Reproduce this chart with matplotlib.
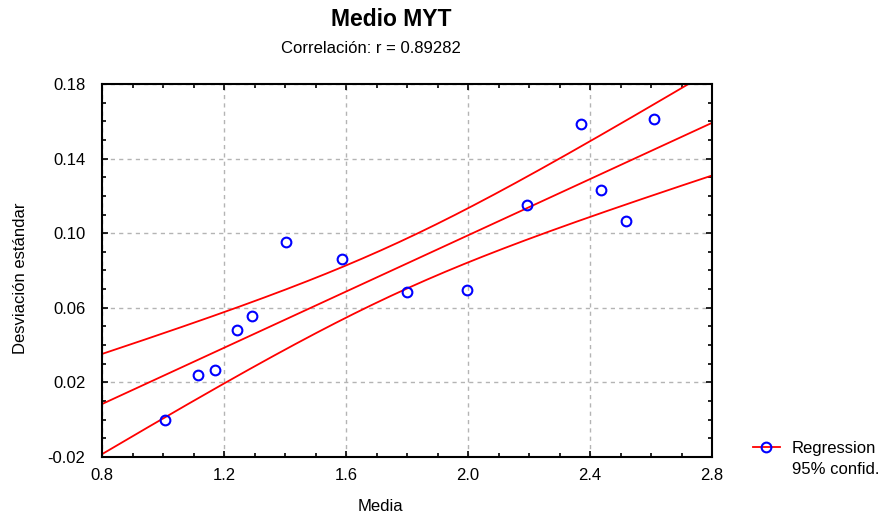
import matplotlib
matplotlib.use("Agg")
import matplotlib.pyplot as plt
from matplotlib.lines import Line2D
from matplotlib.ticker import MultipleLocator, FixedLocator, FuncFormatter
import numpy as np

plt.rcParams['font.family'] = ['Liberation Sans', 'DejaVu Sans']
plt.rcParams['axes.unicode_minus'] = False

# datos
media = [1.007, 1.115, 1.170, 1.243, 1.292, 1.403, 1.587, 1.800,
         1.997, 2.193, 2.370, 2.436, 2.518, 2.610]
desv = [0.000, 0.024, 0.0266, 0.048, 0.0556, 0.0953, 0.0862, 0.0685,
        0.0695, 0.115, 0.1586, 0.1232, 0.1065, 0.1612]
y_ticks = [-0.02, 0.02, 0.06, 0.10, 0.14, 0.18]
r_texto = 'Correlación: r = 0.89282'

x = np.array(media)
y = np.array(desv)
n = len(x)

# ajuste lineal e intervalo de confianza al 95% de la media
b, a = np.polyfit(x, y, 1)
resid = y - (a + b * x)
s = np.sqrt(np.sum(resid ** 2) / (n - 2))
sxx = np.sum((x - x.mean()) ** 2)
t_crit = 2.179  # t(0.975, 12)

xx = np.linspace(0.8, 2.8, 200)
yy = a + b * xx
half = t_crit * s * np.sqrt(1.0 / n + (xx - x.mean()) ** 2 / sxx)

fig = plt.figure(figsize=(8.81, 5.19), dpi=100)
ax = fig.add_axes([0.1158, 0.1195, 0.6924, 0.7187])

ax.plot(xx, yy, color='red', lw=1.3)
ax.plot(xx, yy + half, color='red', lw=1.3)
ax.plot(xx, yy - half, color='red', lw=1.3)
ax.plot(x, y, 'o', mfc='none', mec='blue', mew=1.5, ms=7, zorder=5)

ax.set_xlim(0.8, 2.8)
ax.set_ylim(-0.02, 0.18)
ax.xaxis.set_major_locator(MultipleLocator(0.4))
ax.xaxis.set_minor_locator(MultipleLocator(0.1))
ax.yaxis.set_major_locator(FixedLocator(y_ticks))
ax.yaxis.set_minor_locator(MultipleLocator(0.01))
ax.xaxis.set_major_formatter(FuncFormatter(lambda v, p: f'{v:.1f}'))
ax.yaxis.set_major_formatter(FuncFormatter(lambda v, p: f'{v:.2f}'))
ax.tick_params(which='both', direction='in', top=True, right=True,
               labelsize=12, width=1.2)
ax.tick_params(which='major', length=4)
ax.tick_params(which='minor', length=3)
ax.tick_params(axis='x', which='major', pad=8)
ax.tick_params(axis='y', which='major', pad=12)
for sp in ax.spines.values():
    sp.set_linewidth(1.5)
ax.grid(True, which='major', color='#b4b4b4', linestyle=(0, (3, 3)), lw=1)

ax.set_xlabel('Media', fontsize=12)
ax.set_ylabel('Desviación estándar', fontsize=12)
ax.xaxis.set_label_coords(0.457, -0.113)
ax.yaxis.set_label_coords(-0.122, 0.48)

fig.text(0.444, 0.963, 'Medio MYT', ha='center', va='center',
         fontsize=16.5, fontweight='bold')
fig.text(0.421, 0.907, r_texto, ha='center', va='center', fontsize=12)

h1 = Line2D([], [], color='red', lw=1.3, marker='o', mfc='none',
            mec='blue', mew=1.5, ms=7)
h2 = Line2D([], [], color='none')
fig.legend([h1, h2], ['Regression', '95% confid.'], loc='upper left',
           bbox_to_anchor=(0.845, 0.167), frameon=False, fontsize=12,
           borderpad=0, handlelength=1.62, handletextpad=0.72,
           labelspacing=0.4)

fig.savefig('out.png', dpi=100)
